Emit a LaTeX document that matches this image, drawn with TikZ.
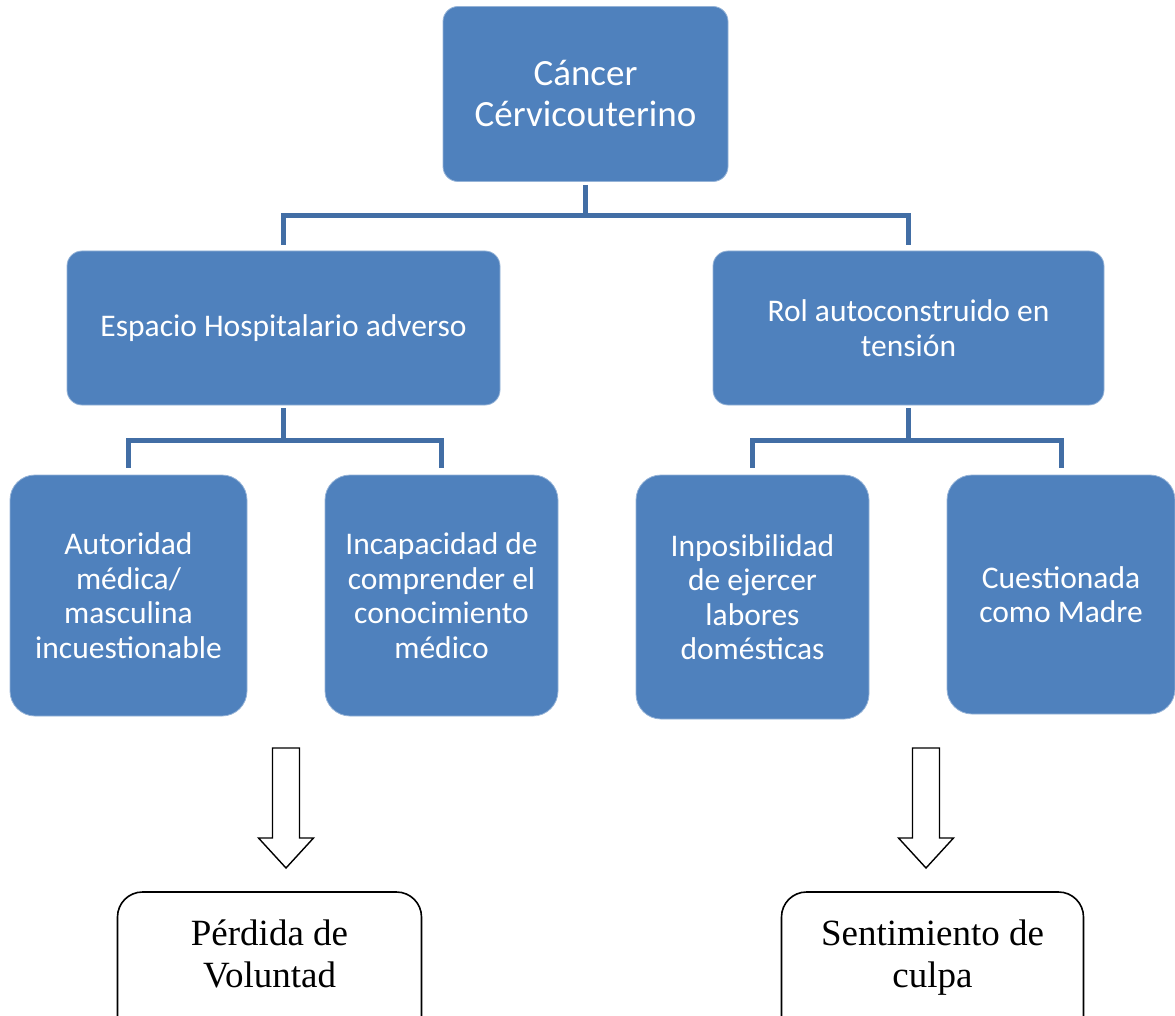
\documentclass[tikz,border=0pt]{standalone}
\usepackage{fontspec}
\setmainfont{Carlito}
\newfontfamily\serifface{Liberation Serif}
\definecolor{boxblue}{HTML}{4F81BD}
\definecolor{connblue}{RGB}{66,110,165}
\begin{document}
\begin{tikzpicture}[x=1pt,y=-1pt,
  bluebox/.style={fill=boxblue, draw=boxblue!60!white, line width=0.8pt, text=white, align=center, inner sep=0pt},
  bigtext/.style={font=\fontsize{37}{41}\selectfont},
  midtext/.style={font=\fontsize{31.5}{34.5}\selectfont},
  conn/.style={draw=connblue, line width=5pt},
  outbox/.style={draw=black, line width=1.6pt, rounded corners=25pt, inner sep=0pt},
  outtext/.style={align=center, inner sep=0pt, font=\serifface\fontsize{37}{42}\selectfont},
  hollowarrow/.style={draw=black, line width=1.4pt, fill=white, line join=miter}]
\useasboundingbox (0,0) rectangle (1175,1016);
% nodes
\node[bluebox, bigtext, rounded corners=15pt, minimum width=285pt, minimum height=175pt] (top) at (585.5,94) {Cáncer\\Cérvicouterino};
\node[bluebox, midtext, rounded corners=15pt, minimum width=433pt, minimum height=154pt] (L) at (283.5,328) {Espacio Hospitalario adverso};
\node[bluebox, midtext, rounded corners=15pt, minimum width=391pt, minimum height=154pt] (R) at (908.5,328) {Rol autoconstruido en\\tensión};
\node[bluebox, midtext, rounded corners=25pt, minimum width=237pt, minimum height=241pt] (B1) at (128.5,595.5) {Autoridad\\médica/\\masculina\\incuestionable};
\node[bluebox, midtext, rounded corners=25pt, minimum width=233pt, minimum height=241pt] (B2) at (441.5,595.5) {Incapacidad de\\comprender el\\conocimiento\\médico};
\node[bluebox, midtext, rounded corners=25pt, minimum width=233pt, minimum height=244pt] (B3) at (752.5,597) {Inposibilidad\\de ejercer\\labores\\domésticas};
\node[bluebox, midtext, rounded corners=25pt, minimum width=228pt, minimum height=239pt] (B4) at (1061,594.5) {Cuestionada\\como Madre};
\node[outbox, minimum width=304pt, minimum height=156pt] (P1) at (269.5,970) {};
\node[outtext] (P1t) at ([yshift=12pt]P1.center) {Pérdida de\\Voluntad\vphantom{p}};
\node[outbox, minimum width=302pt, minimum height=156pt] (P2) at (932.5,970) {};
\node[outtext] (P2t) at ([yshift=12pt]P2.center) {Sentimiento de\\culpa};
% connectors
\coordinate (j1) at (585.5,216);
\coordinate (j2) at (283.5,440);
\coordinate (j3) at (908.5,440);
\draw[conn] ([yshift=-3pt]top.south) -- (j1);
\draw[conn] ([yshift=6pt]L.north) |- (j1) -| ([yshift=6pt]R.north);
\draw[conn] ([yshift=-3pt]L.south) -- (j2);
\draw[conn] ([yshift=7pt]B1.north) |- (j2) -| ([yshift=7pt]B2.north);
\draw[conn] ([yshift=-3pt]R.south) -- (j3);
\draw[conn] ([yshift=7pt]B3.north) |- (j3) -| ([yshift=7pt]B4.north);
% hollow arrows
\coordinate (t1) at (286,868);
\coordinate (t2) at (926,868);
\draw[hollowarrow] (t1) -- ++(-27.5,-30) -- ++(14,0) -- ++(0,-90) -- ++(27,0) -- ++(0,90) -- ++(14,0) -- cycle;
\draw[hollowarrow] (t2) -- ++(-27.5,-30) -- ++(14,0) -- ++(0,-90) -- ++(27,0) -- ++(0,90) -- ++(14,0) -- cycle;
\end{tikzpicture}
\end{document}
